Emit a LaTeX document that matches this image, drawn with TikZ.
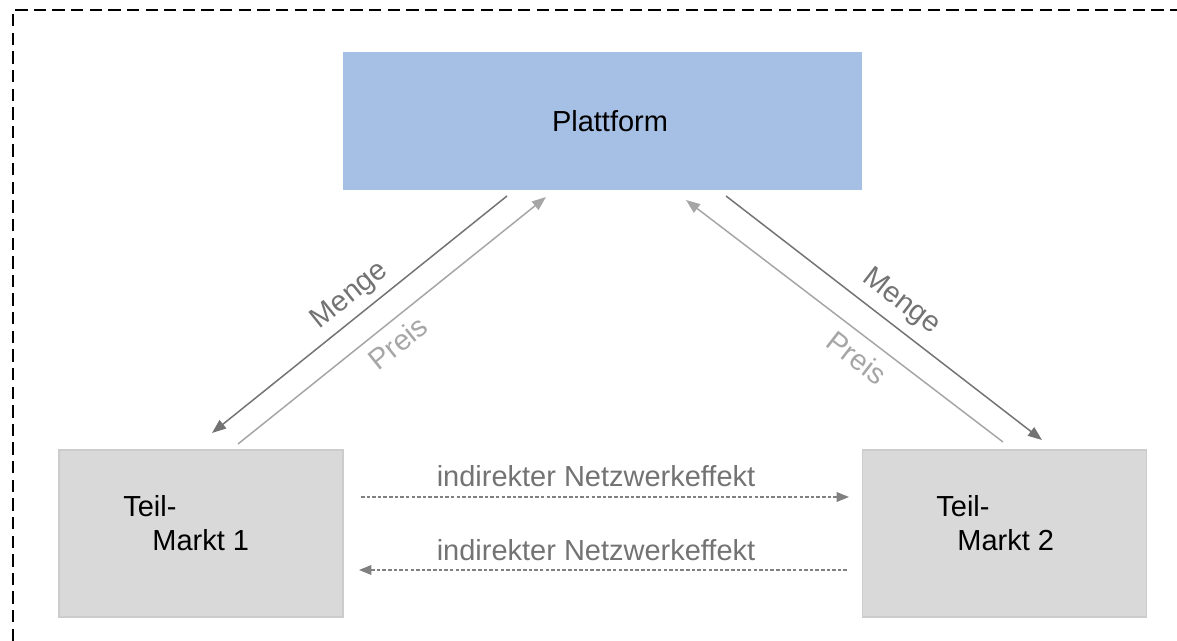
\documentclass[tikz,border=0pt]{standalone}
\usepackage{fontspec}
\setmainfont{Liberation Sans}
\usetikzlibrary{arrows.meta}
\begin{document}
\begin{tikzpicture}[
  x=0.02cm,
  y=-0.02cm,
  every node/.style={
    font=\fontsize{16.5}{20}\selectfont,
    inner sep=0pt
  },
  framebox/.style={
    draw=black,
    line width=1.1pt,
    dash pattern=on 7pt off 3.6pt
  },
  platformbox/.style={
    rectangle,
    fill=blueish,
    minimum width=10.38cm,
    minimum height=2.76cm
  },
  marketbox/.style={
    rectangle,
    fill=black!15,
    draw=black!20,
    line width=0.8pt,
    minimum width=5.68cm,
    minimum height=3.34cm
  },
  mengearrow/.style={
    draw=black!55,
    line width=0.85pt,
    -{Triangle[length=8pt,width=6pt]}
  },
  preisarrow/.style={
    draw=black!35,
    line width=0.85pt,
    -{Triangle[length=8pt,width=6pt]}
  },
  effectarrow/.style={
    draw=black!50,
    line width=0.7pt,
    dash pattern=on 2pt off 1.2pt,
    -{Triangle[length=7pt,width=5.5pt]}
  }
]
\definecolor{blueish}{HTML}{A6BFE4}

\useasboundingbox (0,0) rectangle (1177,641);
\draw[framebox] (13,641) -- (13,10) -- (1177,10);

\node[platformbox] (platform) at (602.5,121) {};
\node (platformtext) at (610,121) {Plattform};

\node[marketbox] (marketone) at (201,533.5) {};
\node[anchor=west] (teilone) at (123,506) {Teil-};
\node[anchor=west] (marktone) at (152,540) {Markt 1};

\node[marketbox] (markettwo) at (1004.5,533.5) {};
\node[anchor=west] (teiltwo) at (936,506) {Teil-};
\node[anchor=west] (markttwo) at (957,540) {Markt 2};

\coordinate (mengeoneA) at (507,196);
\coordinate (mengeoneB) at (212,433);
\coordinate (preisoneA) at (238,444);
\coordinate (preisoneB) at (546,197);
\coordinate (preistwoA) at (1003,442);
\coordinate (preistwoB) at (686,200);
\coordinate (mengetwoA) at (726,196);
\coordinate (mengetwoB) at (1042,440);
\coordinate (effectoneA) at (361,497);
\coordinate (effectoneB) at (849,497);
\coordinate (effecttwoA) at (847,570);
\coordinate (effecttwoB) at (359,570);

\draw[mengearrow] (mengeoneA) -- (mengeoneB);
\draw[preisarrow] (preisoneA) -- (preisoneB);
\draw[preisarrow] (preistwoA) -- (preistwoB);
\draw[mengearrow] (mengetwoA) -- (mengetwoB);
\draw[effectarrow] (effectoneA) -- (effectoneB);
\draw[effectarrow] (effecttwoA) -- (effecttwoB);

\node[text=black!55, rotate=38.8] (mengeone) at (350,296) {Menge};
\node[text=black!35, rotate=38.8] (preisone) at (398,343) {Preis};
\node[text=black!55, rotate=-37.8] (mengetwo) at (901,302) {Menge};
\node[text=black!35, rotate=-37.8] (preistwo) at (857,358) {Preis};
\node[text=black!55] (effectone) at (596,476) {indirekter Netzwerkeffekt};
\node[text=black!55] (effecttwo) at (596,550) {indirekter Netzwerkeffekt};

\end{tikzpicture}
\end{document}
